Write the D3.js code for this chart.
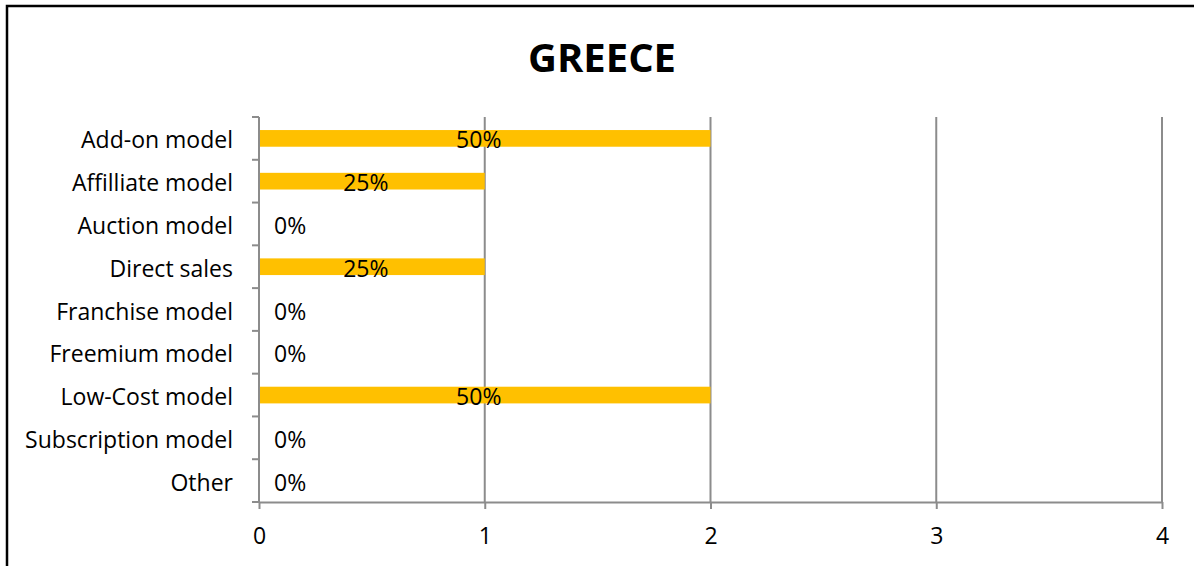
<!DOCTYPE html>
<html>
<head>
<meta charset="utf-8">
<script src="https://cdn.jsdelivr.net/npm/d3@7"></script>
<style>
  html, body { margin: 0; padding: 0; background: #fff; }
  svg { display: block; }
  text { font-family: "Open Sans", "Liberation Sans", sans-serif; fill: #000; }
</style>
</head>
<body>
<svg id="chart" width="1194" height="566"></svg>
<script>
// Business models reported for Greece (count of responses and share)
const title = "GREECE";
const categories = [
  "Add-on model", "Affilliate model", "Auction model", "Direct sales",
  "Franchise model", "Freemium model", "Low-Cost model", "Subscription model", "Other"
];
const counts = [2, 1, 0, 1, 0, 0, 2, 0, 0];
const shares = ["50%", "25%", "0%", "25%", "0%", "0%", "50%", "0%", "0%"];
const xTicks = [0, 1, 2, 3, 4];

const svg = d3.select("#chart");
const margin = { left: 259, right: 32, top: 117, bottom: 64 };
const W = 1194, H = 566;
const fs = "23px";

// outer frame (runs past the right and bottom edges)
svg.append("rect")
  .attr("x", 7).attr("y", 6)
  .attr("width", 1220).attr("height", 620)
  .attr("fill", "none").attr("stroke", "#000").attr("stroke-width", 2.5);

svg.append("text")
  .attr("x", 602).attr("y", 72)
  .attr("text-anchor", "middle")
  .style("font-size", "40px").style("font-weight", "bold")
  .text(title);

const x = d3.scaleLinear().domain([0, 4]).range([margin.left, W - margin.right]);
const y = d3.scaleBand().domain(categories).range([margin.top, H - margin.bottom]);

const grid = "#8c8c8c";

// vertical gridlines
svg.append("g").selectAll("line")
  .data(xTicks.filter(d => d > 0))
  .join("line")
  .attr("x1", d => x(d)).attr("x2", d => x(d))
  .attr("y1", margin.top).attr("y2", H - margin.bottom)
  .attr("stroke", grid).attr("stroke-width", 2);

// bars
const barH = y.bandwidth() * 0.39;
svg.append("g").selectAll("rect")
  .data(categories)
  .join("rect")
  .attr("x", x(0))
  .attr("y", d => y(d) + y.bandwidth() / 2 - barH / 2)
  .attr("width", (d, i) => x(counts[i]) - x(0))
  .attr("height", barH)
  .attr("fill", "#FFC000");

// bottom axis
const xAxis = svg.append("g")
  .attr("transform", `translate(0,${H - margin.bottom})`)
  .call(d3.axisBottom(x).tickValues(xTicks).tickFormat(d3.format("d"))
    .tickSize(7).tickPadding(19).tickSizeOuter(0));
xAxis.select(".domain").attr("stroke", grid).attr("stroke-width", 2);
xAxis.selectAll(".tick line").attr("stroke", grid).attr("stroke-width", 2);
xAxis.selectAll(".tick text")
  .style("font-size", fs).style("font-family", '"Open Sans", sans-serif').attr("fill", "#000");

// left axis: ticks between categories
const yAxisG = svg.append("g");
yAxisG.append("line")
  .attr("x1", x(0)).attr("x2", x(0))
  .attr("y1", margin.top).attr("y2", H - margin.bottom)
  .attr("stroke", grid).attr("stroke-width", 2);
const bounds = categories.map(c => y(c)).concat([y(categories[categories.length - 1]) + y.bandwidth()]);
yAxisG.selectAll("line.tk")
  .data(bounds)
  .join("line").attr("class", "tk")
  .attr("x1", x(0) - 7).attr("x2", x(0))
  .attr("y1", d => d).attr("y2", d => d)
  .attr("stroke", grid).attr("stroke-width", 2);

// category labels
svg.append("g").selectAll("text")
  .data(categories)
  .join("text")
  .attr("x", x(0) - 26)
  .attr("y", d => y(d) + y.bandwidth() / 2 + 2)
  .attr("dy", "0.35em")
  .attr("text-anchor", "end")
  .style("font-size", fs)
  .text(d => d);

// value labels
svg.append("g").selectAll("text")
  .data(categories)
  .join("text")
  .attr("x", (d, i) => counts[i] > 0 ? (x(0) + x(counts[i])) / 2 - 6 : x(0) + 15)
  .attr("y", d => y(d) + y.bandwidth() / 2 + 2)
  .attr("dy", "0.35em")
  .attr("text-anchor", (d, i) => counts[i] > 0 ? "middle" : "start")
  .style("font-size", fs)
  .text((d, i) => shares[i]);
</script>
</body>
</html>
